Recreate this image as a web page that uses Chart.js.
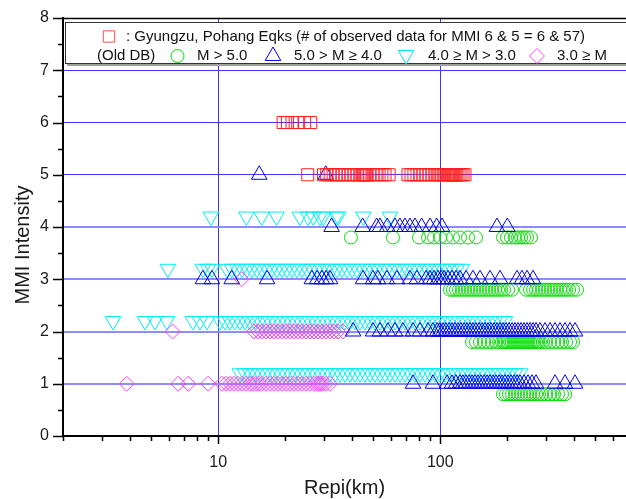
<!DOCTYPE html>
<html>
<head>
<meta charset="utf-8">
<script src="https://cdn.jsdelivr.net/npm/chart.js@4.4.0/dist/chart.umd.min.js"></script>
<style>
  html, body { margin: 0; padding: 0; background: #fff; overflow: hidden; }
  #wrap { width: 626px; height: 499px; }
</style>
</head>
<body>
<div id="wrap"><canvas id="mmiChart" width="626" height="499"></canvas></div>
<script>
// Gyungzu / Pohang earthquakes, Repi (km) at MMI 6 and MMI 5
var gyungzuMmi6 = [19.6, 20.5, 21.5, 22.8, 24.5, 26.1];
var gyungzuMmi5 = [25.3, 29.8, 30.8, 31.9, 32.9, 34.0, 35.0, 36.1, 37.2, 38.4, 39.6, 40.9, 42.2, 43.5, 44.4,
  44.9, 45.3, 45.8, 46.3, 46.7, 48.2, 49.8, 51.3, 53.0, 54.6, 56.4, 58.8, 71.5, 73.8, 76.1, 78.5, 81.0, 83.6,
  86.3, 89.0, 91.9, 94.7, 96.8, 98.8, 100.9, 103.0, 105.1, 107.3, 108.4, 109.5, 110.6, 111.8, 112.9, 114.1,
  115.3, 116.5, 117.7, 118.9, 121.4, 123.9, 126.5, 129.2];

// Old DB, M > 5.0 (plotted at MMI - 0.2)
var bigM4 = [39.6, 61.2, 80.2, 88.1, 93.7, 99.7, 106.1, 114.1, 122.7, 133.3, 144.8, 191.7, 199.7, 208.1,
  216.9, 223.8, 231.0, 238.3, 245.8, 256.2];
var bigM3 = [110.6, 114.1, 117.7, 121.4, 125.2, 129.2, 133.3, 137.5, 141.9, 146.3, 151.0, 155.8, 160.7, 165.8,
  171.0, 176.4, 182.0, 187.8, 193.7, 201.9, 210.5, 243.3, 253.6, 261.6, 269.9, 278.4, 287.2, 296.2, 305.6,
  315.3, 325.2, 335.5, 346.1, 357.1, 368.3, 380.0, 396.0, 412.8];
var bigM2 = [139.0, 144.8, 151.0, 157.4, 164.1, 171.0, 178.3, 183.9, 189.7, 193.7, 197.7, 201.9, 206.1, 210.5,
  214.8, 219.3, 223.8, 228.6, 233.3, 238.3, 243.3, 248.4, 253.6, 258.8, 264.3, 269.9, 275.5, 281.3, 290.2,
  299.3, 311.9, 325.2, 339.0, 353.3, 368.3, 383.9, 396.0];
var bigM1 = [191.7, 197.7, 203.9, 210.5, 217.0, 223.8, 231.0, 238.3, 245.8, 253.6, 261.6, 269.9, 278.4, 287.2,
  299.3, 311.9, 325.2, 339.0, 353.3, 364.5];

// Old DB, 5.0 > M >= 4.0
var midM5 = [15.3, 30.5];
var midM4 = [32.4, 44.7, 51.7, 53.5, 57.7, 62.5, 65.8, 69.3, 73.0, 76.9, 82.4, 89.9, 96.3, 101.8, 180.0, 200.4];
var midM3 = [8.53, 9.37, 11.5, 16.6, 26.4, 27.9, 29.3, 30.6, 31.9, 44.9, 49.8, 52.4, 57.5, 63.8, 73.0, 78.5,
  86.3, 89.9, 93.7, 97.7, 100.9, 103.9, 108.4, 112.9, 117.7, 122.7, 130.6, 140.4, 151.0, 167.5, 185.8, 221.6,
  233.3, 245.8, 261.6];
var midM2 = [40.5, 49.8, 53.5, 58.1, 62.5, 67.9, 75.4, 81.0, 88.1, 92.7, 96.8, 99.7, 103.0, 106.1, 109.5, 112.9,
  116.5, 120.2, 123.9, 127.9, 131.9, 136.1, 140.4, 144.8, 149.4, 154.2, 159.0, 164.1, 169.3, 174.6, 180.1,
  185.8, 191.7, 197.7, 203.9, 210.5, 217.0, 223.8, 231.0, 238.3, 245.8, 253.6, 261.6, 269.9, 281.3, 296.2,
  311.9, 328.6, 346.1, 364.5, 383.9, 404.4];
var midM1 = [75.4, 92.7, 107.3, 112.9, 117.7, 122.7, 126.5, 130.6, 134.7, 139.0, 143.3, 147.9, 152.6, 157.4,
  162.4, 167.5, 172.8, 178.3, 183.9, 189.7, 195.6, 201.9, 208.3, 214.8, 221.6, 228.6, 238.3, 248.4, 258.8,
  269.9, 328.6, 364.5, 404.4];

// Old DB, 4.0 >= M > 3.0 (plotted at MMI + 0.2)
var lowM4 = [9.27, 13.4, 15.7, 18.3, 23.3, 25.4, 26.8, 28.7, 29.7, 34.1, 34.7, 45.0, 59.3];
var lowM3 = [5.93, 8.53, 8.99, 9.37, 10.94, 11.53, 12.14, 12.79, 13.47, 14.18, 14.94, 15.73, 16.57, 17.45,
  18.38, 19.36, 20.39, 21.48, 22.62, 23.82, 25.09, 26.43, 27.84, 29.32, 30.88, 32.53, 34.26, 36.08, 38.0,
  40.03, 42.16, 44.4, 46.76, 49.25, 51.88, 54.64, 57.54, 60.6, 63.83, 67.23, 70.79, 74.56, 78.52, 82.73,
  87.13, 91.76, 96.63, 101.8, 107.2, 112.9, 118.9, 125.2];
var lowM2 = [3.36, 4.68, 5.19, 5.87, 7.69, 8.27, 8.9, 10.18, 10.72, 11.29, 11.89, 12.52, 13.19, 13.89, 14.63,
  15.41, 16.23, 17.1, 18.0, 18.96, 19.97, 21.04, 22.16, 23.33, 24.58, 25.89, 27.27, 28.72, 30.25, 31.86,
  33.56, 35.34, 37.22, 39.2, 41.29, 43.49, 45.8, 48.24, 50.81, 53.52, 56.37, 59.36, 62.52, 65.86, 69.36,
  73.05, 76.92, 81.03, 85.34, 89.88, 94.65, 99.69, 105.0, 110.6, 116.5, 122.7, 129.2, 136.1, 143.3, 151.0,
  159.0, 167.5, 176.4, 185.8, 195.6];
var lowM1 = [12.52, 13.19, 13.89, 14.63, 15.41, 16.23, 17.1, 18.0, 18.96, 19.97, 21.04, 22.16, 23.33, 24.58,
  25.89, 27.27, 28.72, 30.25, 31.86, 33.56, 35.34, 37.22, 39.2, 41.29, 43.49, 45.8, 48.24, 50.81, 53.52,
  56.37, 59.36, 62.52, 65.86, 69.36, 73.05, 76.92, 81.03, 85.34, 89.88, 94.65, 99.69, 105.0, 110.6, 116.5,
  122.7, 129.2, 136.1, 143.3, 151.0, 159.0, 167.5, 176.4, 185.8, 195.6, 206.1, 217.0, 228.6];

// Old DB, 3.0 >= M
var tinyM3 = [12.75];
var tinyM2 = [6.23, 14.48, 15.1, 15.7, 16.4, 17.1, 17.82, 18.57, 19.4, 20.18, 21.0, 21.93, 22.87, 23.8, 24.83,
  25.9, 26.99, 28.15, 29.3, 30.56, 31.9, 33.2, 34.61, 36.45];
var tinyM1 = [3.87, 6.6, 7.33, 9.01, 10.39, 10.83, 11.3, 11.77, 12.27, 12.8, 13.33, 13.9, 14.33, 14.78, 15.25,
  15.7, 16.4, 17.1, 17.82, 18.57, 19.4, 20.18, 21.0, 21.93, 22.87, 23.8, 24.83, 25.9, 26.99, 27.84, 28.42,
  29.02, 29.62, 30.56, 31.9];

var xTickLabels = [10, 100];
var xMinorTicks = [2, 3, 4, 5, 6, 7, 8, 9, 20, 30, 40, 50, 60, 70, 80, 90, 200, 300, 400, 500, 600];

function pts(list, y) {
  return list.map(function(x) { return {x: x, y: y}; });
}

var FONT = '"Liberation Sans", Arial, sans-serif';

function series(data, style, color, radius, rotation, order) {
  return {
    data: data,
    pointStyle: style,
    pointRadius: radius,
    pointRotation: rotation || 0,
    pointBorderColor: color,
    pointBackgroundColor: 'rgba(0,0,0,0)',
    pointBorderWidth: 1,
    showLine: false,
    order: order
  };
}

// tick marks, top frame line and the y title
var axisMarks = {
  id: 'axisMarks',
  afterDraw: function(chart) {
    var ctx = chart.ctx, a = chart.chartArea;
    var xs = chart.scales.x, ys = chart.scales.y;
    ctx.save();
    ctx.strokeStyle = '#000';
    ctx.lineWidth = 1.5;
    ctx.beginPath();
    ctx.moveTo(a.left, a.top + 0.5);
    ctx.lineTo(a.right, a.top + 0.5);
    ctx.stroke();
    ctx.beginPath();
    xMinorTicks.forEach(function(v) {
      var px = Math.round(xs.getPixelForValue(v)) + 0.5;
      ctx.moveTo(px, a.bottom);
      ctx.lineTo(px, a.bottom + 5);
    });
    xTickLabels.forEach(function(v) {
      var px = Math.round(xs.getPixelForValue(v)) + 0.5;
      ctx.moveTo(px, a.bottom);
      ctx.lineTo(px, a.bottom + 8);
    });
    for (var i = 0; i <= 16; i++) {
      var py = Math.round(ys.getPixelForValue(i / 2)) + 0.5;
      ctx.moveTo(a.left, py);
      ctx.lineTo(a.left - (i % 2 === 0 ? 10 : 5), py);
    }
    ctx.stroke();

    ctx.translate(23, 245);
    ctx.rotate(-Math.PI / 2);
    ctx.fillStyle = '#1a1a1a';
    ctx.font = '20px ' + FONT;
    ctx.textAlign = 'center';
    ctx.textBaseline = 'middle';
    ctx.fillText('MMI Intensity', 0, 0);
    ctx.restore();
  }
};

// boxed two-line legend
var legendBox = {
  id: 'legendBox',
  afterDraw: function(chart) {
    var ctx = chart.ctx;
    var draw = Chart.helpers.drawPoint;
    ctx.save();
    ctx.fillStyle = '#fff';
    ctx.fillRect(65, 22, 600, 42);
    ctx.strokeStyle = '#333';
    ctx.lineWidth = 1;
    ctx.strokeRect(65.5, 22.5, 600, 41);
    ctx.strokeStyle = '#a0a0a0';
    ctx.lineWidth = 2;
    ctx.beginPath();
    ctx.moveTo(67, 65);
    ctx.lineTo(640, 65);
    ctx.stroke();

    ctx.lineWidth = 1;
    ctx.fillStyle = 'rgba(0,0,0,0)';
    ctx.strokeStyle = '#ff5050';
    draw(ctx, {pointStyle: 'rect', radius: 8, rotation: 0, borderWidth: 1}, 109, 36.5);
    ctx.strokeStyle = '#00e000';
    draw(ctx, {pointStyle: 'circle', radius: 6.5, rotation: 0, borderWidth: 1}, 177.5, 56);
    ctx.strokeStyle = '#0000ff';
    draw(ctx, {pointStyle: 'triangle', radius: 9, rotation: 0, borderWidth: 1}, 273, 56);
    ctx.strokeStyle = '#00e8e8';
    draw(ctx, {pointStyle: 'triangle', radius: 9, rotation: 180, borderWidth: 1}, 406, 55);
    ctx.strokeStyle = '#ff40ff';
    draw(ctx, {pointStyle: 'rectRot', radius: 7.5, rotation: 0, borderWidth: 1}, 537, 56);

    ctx.fillStyle = '#111';
    ctx.font = '15px ' + FONT;
    ctx.textBaseline = 'middle';
    ctx.textAlign = 'left';
    ctx.fillText(': Gyungzu, Pohang Eqks (# of observed data for MMI 6 & 5 = 6 & 57)', 126, 37);
    ctx.fillText('(Old DB)', 97, 56);
    ctx.fillText('M > 5.0', 197, 56);
    ctx.fillText('5.0 > M \u2265 4.0', 294, 56);
    ctx.fillText('4.0 \u2265 M > 3.0', 428, 56);
    ctx.fillText('3.0 \u2265 M', 557, 56);
    ctx.restore();
  }
};

new Chart(document.getElementById('mmiChart'), {
  type: 'scatter',
  data: {
    datasets: [
      series(pts(gyungzuMmi6, 6).concat(pts(gyungzuMmi5, 5)), 'rect', '#ff2020', 8.5, 0, 0),
      series(pts(bigM4, 3.8).concat(pts(bigM3, 2.8), pts(bigM2, 1.8), pts(bigM1, 0.8)), 'circle', '#00e000', 6.5, 0, 3),
      series(pts(midM5, 5).concat(pts(midM4, 4), pts(midM3, 3), pts(midM2, 2), pts(midM1, 1)), 'triangle', '#0000f0', 9, 0, 1),
      series(pts(lowM4, 4.2).concat(pts(lowM3, 3.2), pts(lowM2, 2.2), pts(lowM1, 1.2)), 'triangle', '#00f0f0', 9, 180, 4),
      series(pts(tinyM3, 3).concat(pts(tinyM2, 2), pts(tinyM1, 1)), 'rectRot', '#ff40ff', 7.5, 0, 2)
    ]
  },
  options: {
    responsive: false,
    animation: false,
    events: [],
    layout: { autoPadding: false, padding: { top: 18, right: 0, left: 0, bottom: 0 } },
    plugins: { legend: { display: false }, tooltip: { enabled: false } },
    scales: {
      x: {
        type: 'logarithmic',
        min: 2,
        max: 686,
        afterBuildTicks: function(scale) {
          scale.ticks = xTickLabels.map(function(v) { return {value: v}; });
        },
        afterFit: function(scale) {
          scale.height = 63;
          scale.paddingLeft = 0;
          scale.paddingRight = 0;
        },
        ticks: {
          autoSkip: false,
          maxRotation: 0,
          padding: 17,
          color: '#1a1a1a',
          font: { family: FONT, size: 16 },
          callback: function(v) { return String(v); }
        },
        grid: { color: '#3a3aff', lineWidth: 1, drawTicks: false },
        border: { display: true, color: '#000', width: 2 },
        title: { display: true, text: 'Repi(km)', color: '#1a1a1a', font: { family: FONT, size: 20 }, padding: { top: 0, bottom: -1 } }
      },
      y: {
        min: 0,
        max: 8,
        afterFit: function(scale) {
          scale.width = 63;
          scale.paddingTop = 0;
          scale.paddingBottom = 0;
        },
        ticks: {
          stepSize: 1,
          padding: 14,
          color: '#1a1a1a',
          font: { family: FONT, size: 16 }
        },
        grid: {
          drawTicks: false,
          color: function(c) {
            var v = c.tick.value;
            if (v < 1 || v > 7) return 'rgba(0,0,0,0)';
            return v <= 4 ? '#8c8cff' : '#3a3aff';
          },
          lineWidth: function(c) { return c.tick.value <= 4 ? 2 : 1; }
        },
        border: { display: true, color: '#000', width: 2 },
        title: { display: false }
      }
    }
  },
  plugins: [axisMarks, legendBox]
});
</script>
</body>
</html>
